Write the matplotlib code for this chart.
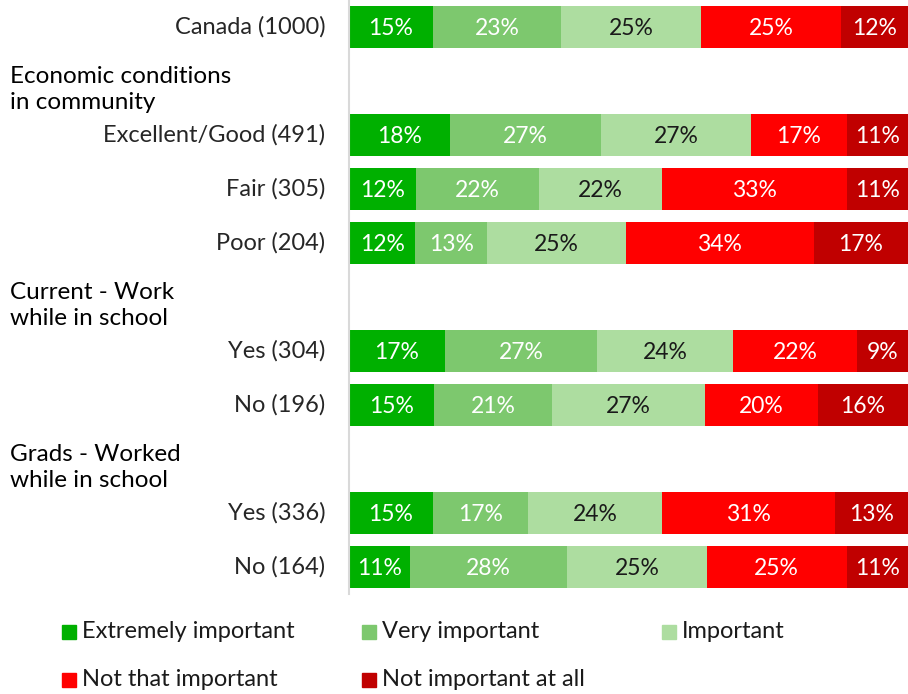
import matplotlib.pyplot as plt
from matplotlib.patches import Rectangle

plt.rcParams['font.family'] = ['Lato', 'DejaVu Sans']

categories = ['Canada (1000)', 'Excellent/Good (491)', 'Fair (305)', 'Poor (204)',
              'Yes (304)', 'No (196)', 'Yes (336)', 'No (164)']
extremely = [15, 18, 12, 12, 17, 15, 15, 11]
very = [23, 27, 22, 13, 27, 21, 17, 28]
important = [25, 27, 22, 25, 24, 27, 24, 25]
not_that = [25, 17, 33, 34, 22, 20, 31, 25]
not_at_all = [12, 11, 11, 17, 9, 16, 13, 11]

# groups: header text and number of categories under it
groups = [('', 1), ('Economic conditions\nin community', 3),
          ('Current - Work\nwhile in school', 2), ('Grads - Worked\nwhile in school', 2)]

series = [extremely, very, important, not_that, not_at_all]
names = ['Extremely important', 'Very important', 'Important',
         'Not that important', 'Not important at all']
colors = ['#00b000', '#7dc86e', '#addda0', '#ff0000', '#c00000']
txt_colors = ['white', 'white', '#1a1a1a', 'white', 'white']

fig = plt.figure(figsize=(9.08, 6.94), dpi=100)
ax = fig.add_axes([349 / 908, 1 - 594 / 694, 1 - 349 / 908, 594 / 694])

# work out row positions (header rows take a slot)
ypos = []
headers = []
row = 0
for h, n in groups:
    if h:
        headers.append((h, row))
        row += 1
    for k in range(n):
        ypos.append(row)
        row += 1
nrows = row

for i, cat in enumerate(categories):
    total = sum(s[i] for s in series)
    left = 0
    for j, s in enumerate(series):
        w = s[i] / total * 100
        ax.barh(ypos[i], w, left=left, height=0.78, color=colors[j], edgecolor='none')
        ax.text(left + w / 2, ypos[i] + 0.03, f'{s[i]}%', ha='center', va='center',
                color=txt_colors[j], fontsize=16.5)
        left += w
    ax.text(-0.042, ypos[i], cat, transform=ax.get_yaxis_transform(), ha='right', va='center',
            fontsize=17, color='#262626')

for h, r in headers:
    ax.text(-339 / 559, r + 0.15, h, transform=ax.get_yaxis_transform(), ha='left', va='center',
            fontsize=17.5, color='black', linespacing=1.3)

ax.set_xlim(0, 100)
ax.set_ylim(nrows - 0.5, -0.5)
ax.set_xticks([])
ax.set_yticks([])
for sp in ['top', 'right', 'bottom']:
    ax.spines[sp].set_visible(False)
ax.spines['left'].set_color('#d9d9d9')
ax.spines['left'].set_linewidth(1.5)

# legend, laid out row by row
leg_x = [62, 362, 662]
leg_y = [632, 680]
for k, name in enumerate(names):
    cx = leg_x[k % 3]
    cy = leg_y[k // 3]
    fig.patches.append(Rectangle((cx / 908, 1 - (cy + 7) / 694), 14 / 908, 14 / 694,
                                 transform=fig.transFigure, color=colors[k]))
    fig.text((cx + 20) / 908, 1 - cy / 694, name, ha='left', va='center',
             fontsize=17, color='#1a1a1a')

fig.savefig('out.png', dpi=100)
